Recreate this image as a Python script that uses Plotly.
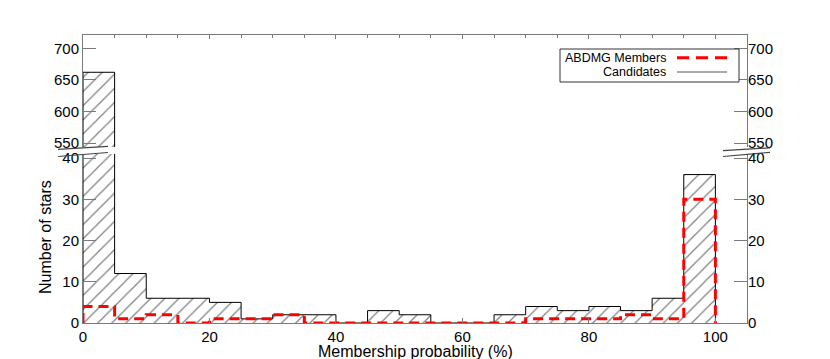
import plotly.graph_objects as go

# ---- data ----
bin_edges = [0, 5, 10, 15, 20, 25, 30, 35, 40, 45, 50, 55, 60, 65, 70, 75, 80, 85, 90, 95, 100]
candidates = [662, 12, 6, 6, 5, 1, 2, 2, 0, 3, 2, 0, 0, 2, 4, 3, 4, 3, 6, 36]
members = [4, 1, 2, 0, 1, 1, 2, 0, 0, 0, 0, 0, 0, 0, 1, 1, 1, 2, 1, 30]
lower_ticks = [0, 10, 20, 30, 40]
upper_ticks = [550, 600, 650, 700]
x_ticks = [0, 20, 40, 60, 80, 100]

centers = [(a + b) / 2 for a, b in zip(bin_edges[:-1], bin_edges[1:])]
widths = [b - a for a, b in zip(bin_edges[:-1], bin_edges[1:])]


def step(counts):
    xs, ys = [bin_edges[0]], [0]
    for i, c in enumerate(counts):
        xs += [bin_edges[i], bin_edges[i + 1]]
        ys += [c, c]
    xs.append(bin_edges[-1])
    ys.append(0)
    return xs, ys


cx, cy = step(candidates)
mx, my = step(members)

GREY = "#7a7a7a"
FONT = "Liberation Sans, Arial, Helvetica, sans-serif"

fig = go.Figure()
for xa, ya in (("x", "y"), ("x2", "y2")):
    fig.add_trace(go.Bar(
        x=centers, y=candidates, width=widths, xaxis=xa, yaxis=ya,
        marker=dict(color="white", line=dict(width=0),
                    pattern=dict(shape="/", size=10, solidity=0.12,
                                 fgcolor="black", bgcolor="white")),
        showlegend=False, hoverinfo="skip"))
    fig.add_trace(go.Scatter(
        x=cx, y=cy, xaxis=xa, yaxis=ya, mode="lines",
        line=dict(color="black", width=1), showlegend=False))
    fig.add_trace(go.Scatter(
        x=mx, y=my, xaxis=xa, yaxis=ya, mode="lines",
        line=dict(color="red", width=3, dash="10px,6px"), showlegend=False))

# invisible traces for mirrored right-side axes
fig.add_trace(go.Scatter(x=[0], y=[0], xaxis="x", yaxis="y3", mode="markers",
                         marker=dict(opacity=0), showlegend=False, hoverinfo="skip"))
fig.add_trace(go.Scatter(x=[0], y=[600], xaxis="x", yaxis="y4", mode="markers",
                         marker=dict(opacity=0), showlegend=False, hoverinfo="skip"))

L_DOM = [0, 0.587]
U_DOM = [0.611, 1]
axfont = dict(family=FONT, size=15, color="black")

fig.update_layout(
    width=830, height=359,
    margin=dict(l=83, r=83, t=35, b=36),
    paper_bgcolor="white", plot_bgcolor="white",
    barmode="overlay", bargap=0,
    font=dict(family=FONT, color="black"),
    xaxis=dict(domain=[0, 1], range=[0, 105], anchor="y", tickvals=x_ticks,
               showline=True, linecolor=GREY, linewidth=1, showgrid=False,
               zeroline=False, ticks="inside", ticklen=5, tickcolor=GREY,
               tickfont=axfont),
    xaxis2=dict(domain=[0, 1], range=[0, 105], anchor="y2", side="top", matches="x",
                showticklabels=False, tickvals=x_ticks,
                showline=True, linecolor=GREY, linewidth=1, showgrid=False,
                zeroline=False, ticks="inside", ticklen=4, tickcolor=GREY,
                minor=dict(dtick=5, tick0=0, ticks="inside", ticklen=3, tickcolor=GREY)),
    yaxis=dict(domain=L_DOM, range=[0, 41], anchor="x", tickvals=lower_ticks,
               showline=True, linecolor=GREY, linewidth=1, mirror="ticks",
               showgrid=False, zeroline=False, ticks="inside", ticklen=13,
               tickcolor=GREY, tickfont=axfont),
    yaxis3=dict(domain=L_DOM, range=[0, 41], overlaying="y", side="right",
                anchor="x", tickvals=lower_ticks, showgrid=False, zeroline=False,
                showline=False, ticks="", tickfont=axfont),
    yaxis2=dict(domain=U_DOM, range=[543.7, 721], anchor="x2", tickvals=upper_ticks,
                showline=True, linecolor=GREY, linewidth=1, mirror="ticks",
                showgrid=False, zeroline=False, ticks="inside", ticklen=13,
                tickcolor=GREY, tickfont=axfont),
    yaxis4=dict(domain=U_DOM, range=[543.7, 721], overlaying="y2", side="right",
                anchor="x2", tickvals=upper_ticks, showgrid=False, zeroline=False,
                showline=False, ticks="", tickfont=axfont),
)

PW, PH, L0, B0 = 664, 288, 83, 323


def px(xp):
    return (xp - L0) / PW


def py(yp):
    return (B0 - yp) / PH


# axis titles
fig.add_annotation(text="Membership probability (%)", xref="paper", yref="paper",
                   x=px(415), y=py(351), showarrow=False,
                   xanchor="center", yanchor="middle",
                   font=dict(family=FONT, size=16, color="black"))
fig.add_annotation(text="Number of stars", xref="paper", yref="paper",
                   x=px(45), y=py(237), showarrow=False, textangle=-90,
                   xanchor="center", yanchor="middle",
                   font=dict(family=FONT, size=16, color="black"))

# axis break marks
for (x0, y0, x1, y1) in [(58, 149.3, 108, 146.3), (58, 156.5, 108, 152.5),
                         (723, 150.7, 770, 147.8), (723, 156.5, 770, 152.3)]:
    fig.add_shape(type="line", xref="paper", yref="paper",
                  x0=px(x0), y0=py(y0), x1=px(x1), y1=py(y1),
                  line=dict(color="#444444", width=1.2))

# legend box
fig.add_shape(type="rect", xref="paper", yref="paper",
              x0=px(560), y0=py(82), x1=px(739), y1=py(49),
              line=dict(color="#333333", width=1), fillcolor="white")
fig.add_annotation(text="ABDMG Members", xref="paper", yref="paper",
                   x=px(668), y=py(57.5), xanchor="right", yanchor="middle",
                   showarrow=False,
                   font=dict(family=FONT, size=12.5, color="black"))
fig.add_annotation(text="Candidates", xref="paper", yref="paper",
                   x=px(668), y=py(71.5), xanchor="right", yanchor="middle",
                   showarrow=False,
                   font=dict(family=FONT, size=12.5, color="black"))
fig.add_shape(type="line", xref="paper", yref="paper",
              x0=px(677), y0=py(57.7), x1=px(727), y1=py(57.7),
              line=dict(color="red", width=3, dash="12px,7px"))
fig.add_shape(type="line", xref="paper", yref="paper",
              x0=px(677), y0=py(72), x1=px(727), y1=py(72),
              line=dict(color="#555555", width=1))

fig.write_html("out.html", config={"displayModeBar": False},
               post_script="document.body.style.margin='0';")
